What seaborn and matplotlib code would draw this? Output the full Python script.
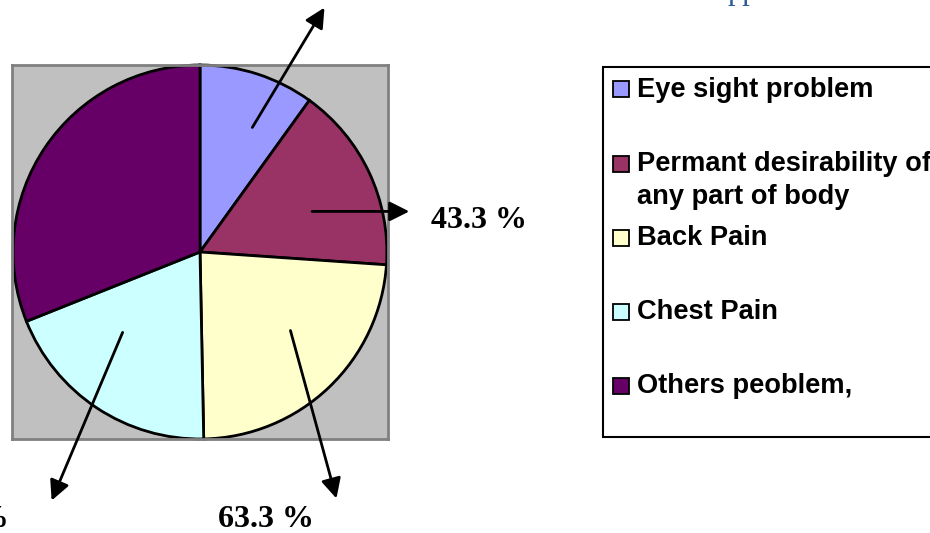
import matplotlib
matplotlib.use("Agg")
import matplotlib.pyplot as plt
from matplotlib.patches import Rectangle
import seaborn as sns

# ---- data ----
categories = ["Eye sight problem", "Permant desirability of\nany part of body",
              "Back Pain", "Chest Pain", "Others peoblem,"]
values = [26.7, 43.3, 63.3, 51.7, 83.3]
label_texts = ["43.3 %", "63.3 %", "51.7 %"]
colors = ["#9999FF", "#993366", "#FFFFCC", "#CCFFFF", "#660066"]

sns.set_theme(style="white")
palette = sns.color_palette(colors)

W, H = 930, 533
fig = plt.figure(figsize=(W / 100, H / 100), dpi=100)
fig.patch.set_facecolor("white")

# pie plot area (gray box)
bx0, by0, bx1, by1 = 12, 65, 388, 439
ax = fig.add_axes([bx0 / W, 1 - by1 / H, (bx1 - bx0) / W, (by1 - by0) / H])
wedges, _ = ax.pie(values, colors=palette, startangle=90, counterclock=False,
                   wedgeprops=dict(edgecolor="black", linewidth=2))
ax.set_xlim(-1.006, 1.006)
ax.set_ylim(-1.0, 1.0)
ax.set_aspect("auto")
ax.set_axis_on()
ax.set_frame_on(True)
ax.set_facecolor("#C0C0C0")
for s in ax.spines.values():
    s.set_visible(True)
    s.set_color("#808080")
    s.set_linewidth(2)
ax.set_xticks([])
ax.set_yticks([])

arrow_style = dict(arrowstyle="-|>,head_length=0.6,head_width=0.3",
                   mutation_scale=20, lw=2, color="black",
                   shrinkA=0, shrinkB=0)
# (start inside wedge, arrow tip)
arrows = [((0.28, 0.666), (0.666, 1.307)),
          ((0.60, 0.217), (1.12, 0.217)),
          ((0.484, -0.42), (0.73, -1.318)),
          ((-0.414, -0.43), (-0.794, -1.329))]
for (s, e) in arrows:
    ax.annotate("", xy=e, xytext=s, xycoords="data", textcoords="data",
                arrowprops=arrow_style, annotation_clip=False)

lab_font = dict(family="Liberation Serif", fontweight="bold", fontsize=23,
                color="black", clip_on=False)
ax.text(1.238, 0.126, label_texts[0], ha="left", va="baseline", **lab_font)
ax.text(0.094, -1.473, label_texts[1], ha="left", va="baseline", **lab_font)
ax.text(-1.024, -1.473, label_texts[2], ha="right", va="baseline", **lab_font)

# ---- legend (Excel style) ----
def px(x, y):
    return x / W, 1 - y / H

lx0, ly0, lx1, ly1 = 603, 67, 945, 437
fig.add_artist(Rectangle(px(lx0, ly1), (lx1 - lx0) / W, (ly1 - ly0) / H,
                         transform=fig.transFigure, facecolor="white",
                         edgecolor="black", linewidth=1.5, zorder=1))
for i, (cat, col) in enumerate(zip(categories, palette)):
    yc = 89.5 + 74 * i
    sq = 16
    fig.add_artist(Rectangle(px(613, yc + sq / 2), sq / W, sq / H,
                             transform=fig.transFigure, facecolor=col,
                             edgecolor="black", linewidth=1.3, zorder=2))
    for j, line in enumerate(cat.split("\n")):
        fig.text(*px(637, yc + 7.5 + 33 * j), line, ha="left", va="baseline",
                 family="Liberation Sans", fontweight="bold", fontsize=19.6,
                 color="black", zorder=3)

# clipped caption at top
fig.text(*px(728, -1), "pp", ha="left", va="baseline",
         family="Liberation Serif", fontsize=22, color="#2E5C9A")

fig.savefig("out.png", dpi=100)
